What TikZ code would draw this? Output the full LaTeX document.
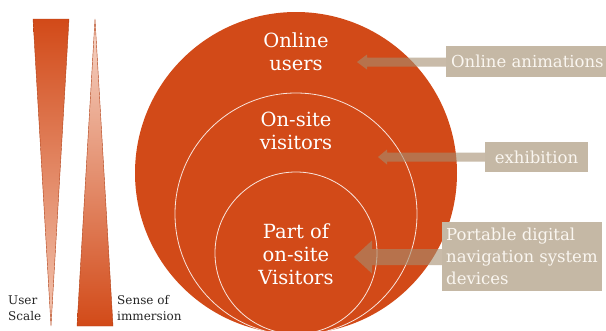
\documentclass[tikz,border=0pt]{standalone}
\usepackage{fontspec}
\setmainfont{DejaVu Serif}
\usetikzlibrary{calc}
\definecolor{orng}{HTML}{D24A18}
\definecolor{lpink}{HTML}{F3C6B2}
\definecolor{tan}{HTML}{C5B8A5}
\definecolor{arrtan}{RGB}{165,142,112}
\definecolor{labtxt}{HTML}{FAF6F0}
\tikzset{
  x=1pt, y=-1pt,
  circtext/.style={text=white, align=center, font=\fontsize{19.5}{23}\selectfont, inner sep=0pt},
  labelbox/.style={text=labtxt, inner sep=0pt, font=\fontsize{16.5}{22}\selectfont},
  arr/.style={fill=arrtan, fill opacity=0.6},
  ring/.style={draw=white, draw opacity=0.85, line width=0.8pt},
  smalltext/.style={align=left, anchor=north west, inner sep=0pt, font=\fontsize{12}{16}\selectfont, text=black!85}
}
\begin{document}
\begin{tikzpicture}
\clip (0,0) rectangle (606,330);
\fill[white] (0,0) rectangle (606,330);
% gradient triangles
\shade[top color=orng, bottom color=lpink] (33,19) -- (69,19) -- (51,326) -- cycle;
\draw[orng!85!black, line width=0.4pt] (33,19) -- (69,19) -- (51,326) -- cycle;
\shade[top color=lpink!70!white, bottom color=orng] (95,19) -- (113,326) -- (77,326) -- cycle;
\draw[orng!85!black, line width=0.4pt] (95,19) -- (113,326) -- (77,326) -- cycle;
\node[smalltext] (us) at (8,295.5) {User\\Scale};
\node[smalltext] (si) at (117,295.5) {Sense of\\immersion};
% circles
\fill[orng] (296,173) circle (161);
\draw[ring] (296,214) circle (121);
\draw[ring] (296,253) circle (81);
\node[circtext] (c1) at (296,52) {Online\\users};
\node[circtext] (c2) at (296,131) {On-site\\visitors};
\node[circtext] (c3) at (296,254) {Part of\\on-site\\Visitors};
% arrow tips
\coordinate (t1) at (357,62);
\coordinate (t2) at (378,157);
\coordinate (t3) at (354,257);
% arrows
\fill[arr] (t1) -- ([shift={(10,-7.5)}]t1) -- ([shift={(10,-4.5)}]t1) -- (450,57.5) -- (450,66.5) -- ([shift={(10,4.5)}]t1) -- ([shift={(10,7.5)}]t1) -- cycle;
\fill[arr] (t2) -- ([shift={(9,-7.5)}]t2) -- ([shift={(9,-4.5)}]t2) -- (490,152.5) -- (490,161.5) -- ([shift={(9,4.5)}]t2) -- ([shift={(9,7.5)}]t2) -- cycle;
\fill[arr] (t3) -- ([shift={(18,-16.5)}]t3) -- ([shift={(18,-8)}]t3) -- (446,249) -- (446,265) -- ([shift={(18,8)}]t3) -- ([shift={(18,16.5)}]t3) -- cycle;
% label boxes
\fill[tan] (446,46) rectangle (612,77);
\node[labelbox, anchor=west] (b1) at (451,61.5) {Online animations};
\fill[tan] (485,142) rectangle (588,172);
\node[labelbox] (b2) at (536.5,157) {exhibition};
\fill[tan] (442,222) rectangle (602,291);
\node[labelbox, anchor=west, align=left] (b3) at (446,256.5) {Portable digital\\navigation system\\devices};
\end{tikzpicture}
\end{document}
